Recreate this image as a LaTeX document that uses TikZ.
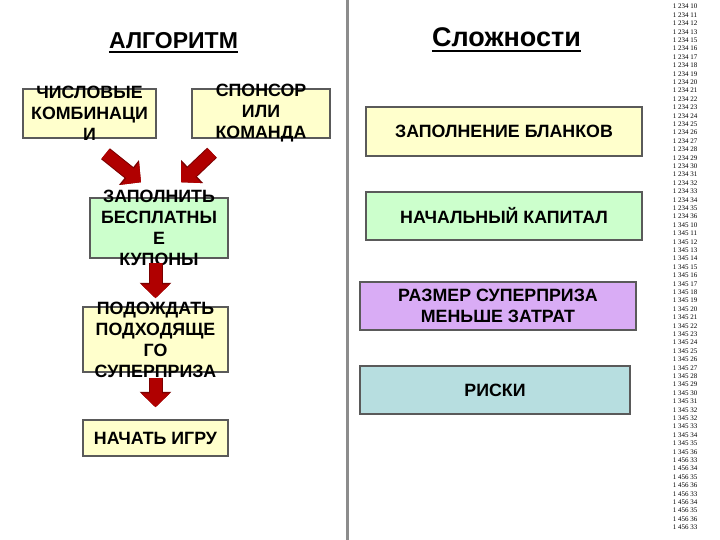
\documentclass[tikz,border=0pt]{standalone}
\usepackage{fontspec}
\setmainfont{Liberation Sans}
\newfontfamily\codefont{Liberation Serif}
\usetikzlibrary{arrows.meta,calc}
\definecolor{boxyellow}{HTML}{FFFFCC}
\definecolor{boxgreen}{HTML}{CCFFCC}
\definecolor{boxpurple}{HTML}{D9ACF5}
\definecolor{boxcyan}{HTML}{B7DEE0}
\definecolor{boxline}{HTML}{5A5A5A}
\definecolor{arrowred}{HTML}{B00000}
\definecolor{arrowdark}{HTML}{7A0000}
\tikzstyle{box}=[draw=boxline,line width=1.5pt,inner sep=0pt,font=\bfseries\fontsize{17.8}{21}\selectfont,align=center]
\tikzstyle{boxtext}=[inner sep=0pt,font=\bfseries\fontsize{17.8}{21}\selectfont,align=center]
\tikzstyle{title}=[inner sep=0pt,font=\bfseries\fontsize{23}{27}\selectfont]
\tikzstyle{codetext}=[inner sep=0pt,font=\codefont\fontsize{7}{8}\selectfont]
\tikzstyle{redarrow}=[draw=arrowred,line width=12pt,-{Triangle[width=28pt,length=14pt]},
  preaction={draw=arrowdark,line width=14pt,-{Triangle[width=31pt,length=15.5pt]}}]

\begin{document}
\begin{tikzpicture}[x=1pt,y=-1pt]
\useasboundingbox (0,0) rectangle (720,540);
\draw[line width=3pt,color=black!45] (347.5,0) -- (347.5,540);

% algorithm column
\node[title,anchor=base] (algo) at (173.5,49) {АЛГОРИТМ};
\draw[line width=2pt] ($(algo.base west)+(0,3.5)$) -- ($(algo.base east)+(0,3.5)$);
\node[box,fill=boxyellow,minimum width=133pt,minimum height=49pt,
  label={[boxtext]center:{ЧИСЛОВЫЕ\\КОМБИНАЦИ\\И}}] (combo) at (89.5,113.5) {};
\node[box,fill=boxyellow,minimum width=138pt,minimum height=49pt,
  label={[boxtext]center:{СПОНСОР\\ИЛИ\\КОМАНДА}}] (sponsor) at (261,113.5) {};
\node[box,fill=boxgreen,minimum width=138pt,minimum height=60pt,
  label={[boxtext]center:{ЗАПОЛНИТЬ\\БЕСПЛАТНЫ\\Е\\КУПОНЫ}}] (coupons) at (159,228) {};
\node[box,fill=boxyellow,minimum width=145pt,minimum height=65pt,
  label={[boxtext]center:{ПОДОЖДАТЬ\\ПОДХОДЯЩЕ\\ГО\\СУПЕРПРИЗА}}] (waitbox) at (155.5,339.5) {};
\node[box,fill=boxyellow,minimum width=145pt,minimum height=36pt] (startbox) at (155.5,438) {НАЧАТЬ ИГРУ};

\draw[redarrow] ($(combo.south)+(16,15)$) -- ($(coupons.north)+(-18,-15)$);
\draw[redarrow] ($(sponsor.south)+(-49,14)$) -- ($(coupons.north)+(22,-15)$);
\draw[redarrow] ($(waitbox.north |- coupons.south)+(0,4)$) -- ($(waitbox.north)+(0,-8)$);
\draw[redarrow] ($(waitbox.south)+(0,5)$) -- ($(startbox.north)+(0,-12)$);

% difficulties column
\node[title,anchor=base,font=\bfseries\fontsize{27}{31}\selectfont] (hard) at (506.5,47) {Сложности};
\draw[line width=2pt] ($(hard.base west)+(0,4)$) -- ($(hard.base east)+(0,4)$);
\node[box,fill=boxyellow,minimum width=276pt,minimum height=49pt] (blanks) at (504,131.5) {ЗАПОЛНЕНИЕ БЛАНКОВ};
\node[box,fill=boxgreen,minimum width=276pt,minimum height=48pt] (capital) at (504,216) {НАЧАЛЬНЫЙ КАПИТАЛ};
\node[box,fill=boxpurple,minimum width=276pt,minimum height=48pt] (prize) at (498,306) {РАЗМЕР СУПЕРПРИЗА\\МЕНЬШЕ ЗАТРАТ};
\node[box,fill=boxcyan,minimum width=270pt,minimum height=48pt] (risks) at (495,390) {РИСКИ};

% codes
\foreach \code [count=\i from 0] in {1 234 10,1 234 11,1 234 12,1 234 13,1 234 15,1 234 16,1 234 17,
  1 234 18,1 234 19,1 234 20,1 234 21,1 234 22,1 234 23,1 234 24,1 234 25,1 234 26,1 234 27,1 234 28,
  1 234 29,1 234 30,1 234 31,1 234 32,1 234 33,1 234 34,1 234 35,1 234 36,
  1 345 10,1 345 11,1 345 12,1 345 13,1 345 14,1 345 15,1 345 16,1 345 17,1 345 18,1 345 19,1 345 20,
  1 345 21,1 345 22,1 345 23,1 345 24,1 345 25,1 345 26,1 345 27,1 345 28,1 345 29,1 345 30,1 345 31,
  1 345 32,1 345 32,1 345 33,1 345 34,1 345 35,1 345 36,
  1 456 33,1 456 34,1 456 35,1 456 36,1 456 33,1 456 34,1 456 35,1 456 36,1 456 33}
  \node[codetext] (code\i) at (685,{6.7+8.4*\i}) {\code};
\end{tikzpicture}
\end{document}
